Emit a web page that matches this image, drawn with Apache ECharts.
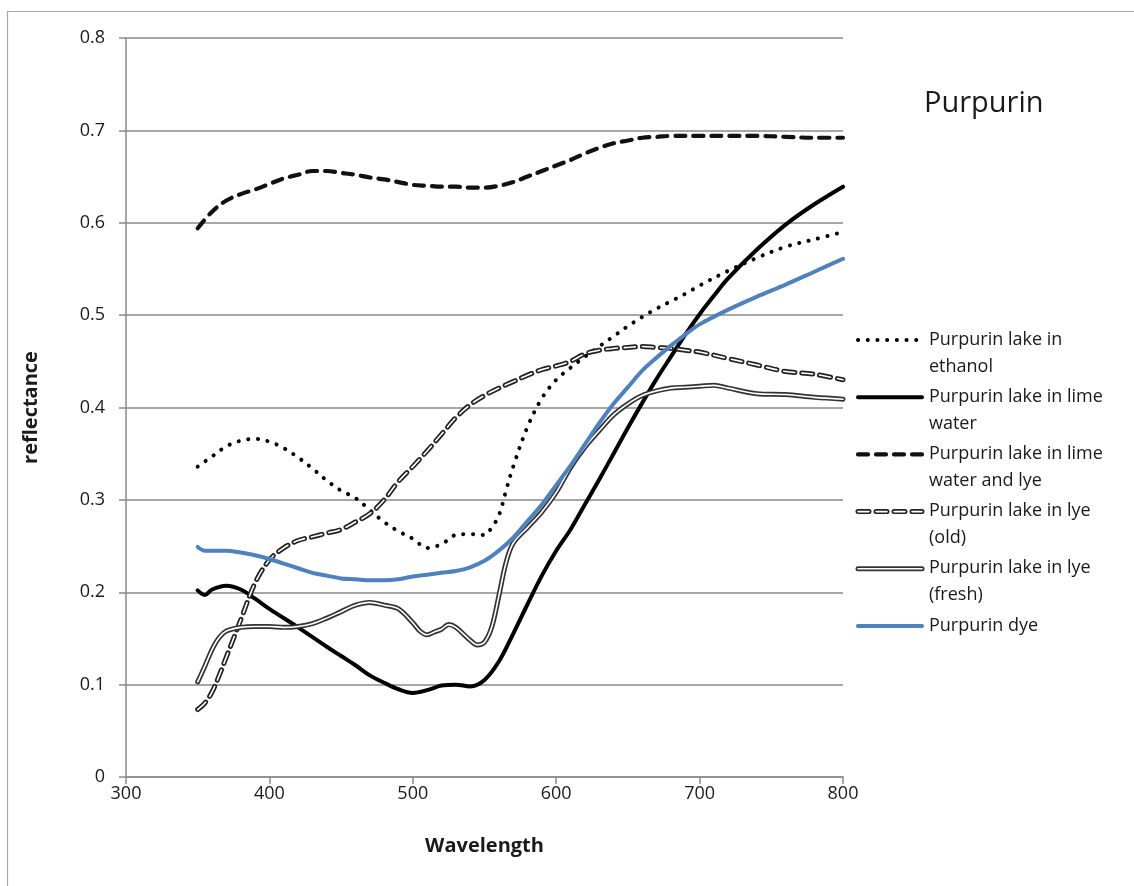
<!DOCTYPE html>
<html>
<head>
<meta charset="utf-8">
<title>Purpurin</title>
<script src="https://cdn.jsdelivr.net/npm/echarts@6/dist/echarts.min.js"></script>
<style>
  html, body { margin: 0; padding: 0; background: #fff; }
  #chart { width: 1134px; height: 886px; }
</style>
</head>
<body>
<div id="chart"></div>
<script>
// Reflectance spectra of purpurin preparations, [wavelength nm, reflectance]
const ethanol = [
  [350,0.336],[360,0.347],[370,0.358],[380,0.364],[390,0.366],[400,0.363],[410,0.356],[420,0.346],
  [430,0.334],[440,0.321],[450,0.310],[460,0.302],[470,0.289],[480,0.276],[490,0.266],[500,0.258],
  [510,0.248],[520,0.252],[530,0.262],[540,0.263],[550,0.262],[555,0.270],[560,0.283],[565,0.310],
  [570,0.336],[580,0.379],[590,0.410],[600,0.430],[610,0.443],[620,0.455],[630,0.466],[640,0.477],
  [650,0.488],[660,0.498],[670,0.507],[680,0.515],[690,0.523],[700,0.532],[720,0.548],[740,0.562],
  [760,0.574],[780,0.582],[800,0.590]
];
const limeWater = [
  [350,0.202],[355,0.197],[360,0.203],[370,0.207],[380,0.203],[390,0.193],[400,0.182],[420,0.162],
  [440,0.141],[450,0.131],[460,0.121],[470,0.110],[480,0.102],[490,0.095],[500,0.091],[510,0.094],
  [520,0.099],[530,0.100],[540,0.098],[550,0.105],[560,0.125],[570,0.155],[580,0.187],[590,0.218],
  [600,0.245],[610,0.268],[620,0.295],[630,0.322],[640,0.350],[650,0.378],[660,0.405],[670,0.431],
  [680,0.455],[690,0.479],[700,0.501],[710,0.521],[720,0.540],[740,0.571],[760,0.598],[780,0.620],
  [800,0.639]
];
const limeWaterLye = [
  [350,0.594],[360,0.612],[370,0.624],[380,0.631],[390,0.636],[400,0.642],[410,0.648],[420,0.652],
  [430,0.656],[440,0.656],[450,0.654],[460,0.652],[470,0.649],[480,0.647],[490,0.644],[500,0.641],
  [510,0.640],[520,0.639],[530,0.639],[540,0.638],[550,0.638],[560,0.640],[570,0.644],[580,0.650],
  [590,0.656],[600,0.662],[610,0.668],[620,0.675],[630,0.681],[640,0.686],[650,0.689],[660,0.692],
  [670,0.693],[680,0.694],[700,0.694],[720,0.694],[740,0.694],[760,0.693],[780,0.692],[800,0.692]
];
const lyeOld = [
  [350,0.073],[355,0.080],[360,0.092],[365,0.110],[370,0.130],[380,0.170],[390,0.210],[400,0.235],
  [410,0.248],[420,0.256],[430,0.260],[440,0.264],[450,0.268],[460,0.276],[470,0.285],[480,0.300],
  [490,0.320],[500,0.336],[510,0.353],[520,0.371],[530,0.389],[540,0.403],[550,0.413],[560,0.421],
  [570,0.428],[580,0.435],[590,0.441],[600,0.445],[610,0.450],[620,0.458],[630,0.462],[640,0.464],
  [650,0.465],[660,0.466],[670,0.465],[680,0.464],[690,0.462],[700,0.460],[720,0.453],[740,0.446],
  [760,0.439],[780,0.436],[800,0.430]
];
const lyeFresh = [
  [350,0.103],[355,0.120],[360,0.138],[365,0.151],[370,0.158],[380,0.162],[390,0.163],[400,0.163],
  [410,0.162],[420,0.163],[430,0.166],[440,0.172],[450,0.179],[460,0.186],[470,0.189],[480,0.186],
  [490,0.182],[500,0.167],[505,0.158],[510,0.154],[515,0.157],[520,0.160],[525,0.165],[530,0.162],
  [540,0.148],[545,0.143],[550,0.146],[555,0.162],[560,0.196],[565,0.232],[570,0.253],[580,0.270],
  [590,0.287],[600,0.308],[610,0.335],[620,0.357],[630,0.375],[640,0.392],[650,0.404],[660,0.413],
  [670,0.418],[680,0.421],[690,0.422],[700,0.423],[710,0.424],[720,0.421],[740,0.415],[760,0.414],
  [780,0.411],[800,0.409]
];
const dye = [
  [350,0.249],[355,0.245],[360,0.245],[370,0.245],[380,0.243],[390,0.240],[400,0.236],[410,0.231],
  [420,0.226],[430,0.221],[440,0.218],[450,0.215],[460,0.214],[470,0.213],[480,0.213],[490,0.214],
  [500,0.217],[510,0.219],[520,0.221],[530,0.223],[540,0.227],[550,0.234],[560,0.245],[570,0.259],
  [580,0.277],[590,0.295],[600,0.316],[610,0.337],[620,0.360],[630,0.383],[640,0.404],[650,0.422],
  [660,0.440],[670,0.454],[680,0.467],[690,0.479],[700,0.490],[720,0.506],[740,0.520],[760,0.533],
  [780,0.547],[800,0.561]
];

const seriesNames = [
  'Purpurin lake in ethanol',
  'Purpurin lake in lime water',
  'Purpurin lake in lime water and lye',
  'Purpurin lake in lye (old)',
  'Purpurin lake in lye (fresh)',
  'Purpurin dye'
];
const legendLabels = [
  'Purpurin lake in\nethanol',
  'Purpurin lake in lime\nwater',
  'Purpurin lake in lime\nwater and lye',
  'Purpurin lake in lye\n(old)',
  'Purpurin lake in lye\n(fresh)',
  'Purpurin dye'
];
const xTicks = [300, 400, 500, 600, 700, 800];
const yTicks = [0, 0.1, 0.2, 0.3, 0.4, 0.5, 0.6, 0.7, 0.8];

const FONT = '"Open Sans", "Liberation Sans", sans-serif';
const TEXT = '#1a1a1a';
const GRID = '#8a8a8a';
const BLUE = '#4f81bd';

// stroke recipes: each entry is one or two stacked strokes (outline + white core)
const styles = [
  [{ color: '#000', width: 4, type: [0.1, 9.6], cap: 'round' }],
  [{ color: '#000', width: 4, type: 'solid', cap: 'round' }],
  [{ color: '#111', width: 4.2, type: [10, 8], cap: 'round' }],
  [{ color: '#222', width: 5, type: [11, 7], cap: 'round' }, { color: '#fff', width: 1.6, type: [11, 7], cap: 'round' }],
  [{ color: '#333', width: 5, type: 'solid', cap: 'round' }, { color: '#fff', width: 1.6, type: 'solid', cap: 'round' }],
  [{ color: BLUE, width: 4, type: 'solid', cap: 'round' }]
];
const datasets = [ethanol, limeWater, limeWaterLye, lyeOld, lyeFresh, dye];

const series = [];
datasets.forEach((d, i) => {
  styles[i].forEach((s, k) => {
    series.push({
      name: k === 0 ? seriesNames[i] : seriesNames[i] + ' core',
      type: 'line',
      data: d,
      smooth: 0.35,
      showSymbol: false,
      silent: true,
      z: 2 + i * 2 + k,
      lineStyle: { color: s.color, width: s.width, type: s.type, cap: s.cap, join: 'round' }
    });
  });
});

// hand-drawn legend: icon strokes reuse the series recipes
const legendGraphics = [];
const legX = 858, legW = 64, legTop = 340, legStep = 57.2;
legendLabels.forEach((label, i) => {
  const y = legTop + i * legStep;
  styles[i].forEach((s, k) => {
    legendGraphics.push({
      type: 'line',
      shape: { x1: legX, y1: y, x2: legX + legW, y2: y },
      style: {
        stroke: s.color, lineWidth: s.width, lineCap: s.cap,
        lineDash: Array.isArray(s.type) ? s.type : null
      },
      z: 10 + k
    });
  });
  legendGraphics.push({
    type: 'text',
    left: 929, top: y - 14,
    style: { text: label, font: '18px ' + FONT, fill: TEXT, lineHeight: 27 },
    z: 10
  });
});

const chart = echarts.init(document.getElementById('chart'), null, { renderer: 'canvas' });
chart.setOption({
  animation: false,
  backgroundColor: '#fff',
  title: {
    text: 'Purpurin',
    left: 919, top: 84,
    textStyle: { fontFamily: FONT, fontSize: 29, fontWeight: 'normal', color: TEXT }
  },
  grid: { left: 126, right: 291, top: 38, bottom: 109, containLabel: false },
  xAxis: {
    type: 'value', min: xTicks[0], max: xTicks[xTicks.length - 1], interval: 100,
    name: 'Wavelength', nameLocation: 'middle', nameGap: 59,
    nameTextStyle: { fontFamily: FONT, fontSize: 20, fontWeight: 'bold', color: TEXT },
    axisLine: { show: true, lineStyle: { color: GRID, width: 1.5 } },
    axisTick: { show: true, length: 7, lineStyle: { color: GRID, width: 1.5 } },
    axisLabel: { margin: 8, fontFamily: FONT, fontSize: 18, color: TEXT },
    splitLine: { show: false }
  },
  yAxis: {
    type: 'value', min: yTicks[0], max: yTicks[yTicks.length - 1], interval: 0.1,
    name: 'reflectance', nameLocation: 'middle', nameGap: 85, nameRotate: 90,
    nameTextStyle: { fontFamily: FONT, fontSize: 20, fontWeight: 'bold', color: TEXT },
    axisLine: { show: true, lineStyle: { color: GRID, width: 1.5 } },
    axisTick: { show: true, length: 7, lineStyle: { color: GRID, width: 1.5 } },
    axisLabel: {
      margin: 21, fontFamily: FONT, fontSize: 18, color: TEXT,
      formatter: v => (Math.round(v * 10) / 10).toString()
    },
    splitLine: { show: true, lineStyle: { color: GRID, width: 1.5 } }
  },
  graphic: [
    {
      type: 'polyline',
      shape: { points: [[7.5, 886], [7.5, 11.5], [1134, 11.5]] },
      style: { stroke: '#a6a6a6', lineWidth: 1.2, fill: null },
      silent: true
    }
  ].concat(legendGraphics),
  series: series
});
</script>
</body>
</html>
